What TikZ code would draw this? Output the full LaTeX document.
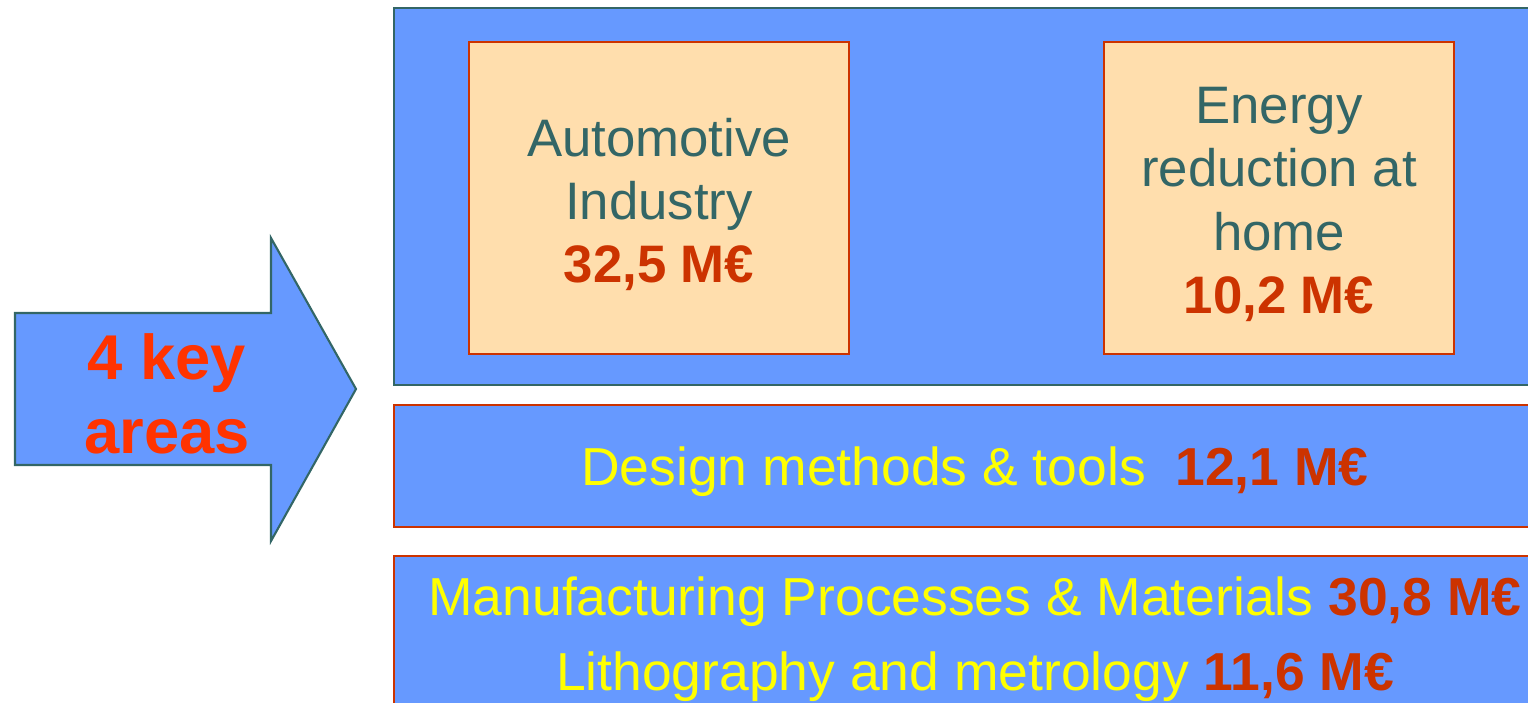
\documentclass[tikz,border=0pt]{standalone}
\usepackage{fontspec}
\setmainfont{Liberation Sans}
\definecolor{boxblue}{HTML}{6699FF}
\definecolor{peach}{HTML}{FFDEAD}
\definecolor{teal}{HTML}{336666}
\definecolor{numred}{HTML}{CC3300}
\definecolor{arrowred}{HTML}{FF3300}
\definecolor{yel}{HTML}{FFFF00}
\tikzset{
  bigbox/.style={draw=teal, fill=boxblue, line width=0.6pt, inner sep=0pt},
  bandbox/.style={draw=numred, fill=boxblue, line width=0.6pt, inner sep=0pt},
  peachbox/.style={draw=numred, fill=peach, line width=0.6pt, inner sep=0pt},
  peachtext/.style={text=teal, align=center, inner sep=0pt, font=\fontsize{15}{18}\selectfont},
  bandtext/.style={text=yel, align=center, inner sep=0pt},
}
\newcommand{\amount}[1]{\textbf{\color{numred}#1}}
\begin{document}
\begin{tikzpicture}[x=0.01cm, y=-0.01cm]
\useasboundingbox (0,0) rectangle (1528,702);
\clip (0,0) rectangle (1528,702);
% arrow
\draw[fill=boxblue, draw=teal, line width=0.6pt]
  (15,313) -- (271,313) -- (271,238) -- (356,389) -- (271,541) -- (271,465) -- (15,465) -- cycle;
\node[text=arrowred, align=center, font=\fontsize{18}{21}\selectfont\bfseries] (keyareas) at (167,394) {4 key\\areas};
% top box
\node[bigbox, minimum width=11.62cm, minimum height=3.77cm] (top) at (975,196.5) {};
\node[peachbox, minimum width=3.8cm, minimum height=3.12cm] (auto) at (659,198) {};
\node[peachtext] (autotext) at ([yshift=-0.065cm]auto.center)
  {Automotive\\Industry\\ \amount{32,5 M€}};
\node[peachbox, minimum width=3.5cm, minimum height=3.12cm] (energy) at (1279,198) {};
\node[peachtext] (energytext) at ([yshift=-0.065cm]energy.center)
  {Energy\\reduction at\\home\\ \amount{10,2 M€}};
% design band
\node[bandbox, minimum width=11.62cm, minimum height=1.22cm] (design) at (975,466) {};
\node[bandtext, font=\fontsize{15.2}{18}\selectfont] (designtext) at ([yshift=-0.06cm]design.center)
  {Design methods \& tools\ \ \amount{12,1 M€}};
% manufacturing band
\node[bandbox, minimum width=11.62cm, minimum height=1.56cm] (manuf) at (975,634) {};
\node[bandtext, font=\fontsize{15.2}{21.5}\selectfont] (manuftext) at ([yshift=-0.05cm]manuf.center)
  {Manufacturing Processes \& Materials \amount{30,8 M€}\\Lithography and metrology \amount{11,6 M€}};
\end{tikzpicture}
\end{document}
